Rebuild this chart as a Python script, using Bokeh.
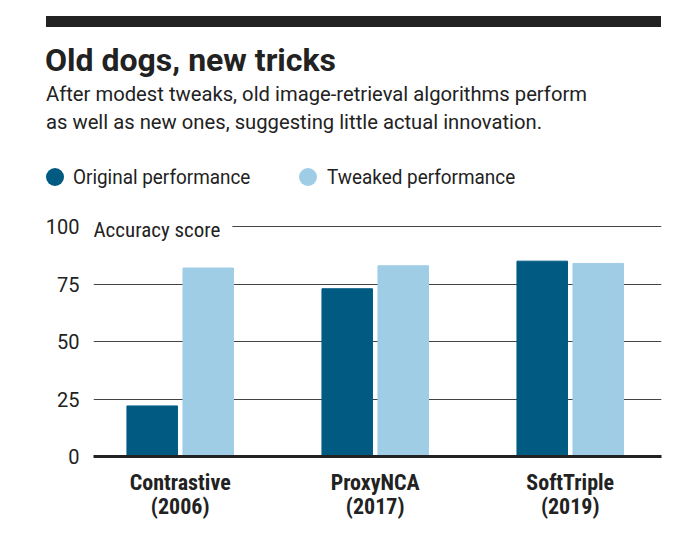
from bokeh.plotting import figure
from bokeh.layouts import column
from bokeh.models import Range1d, FixedTicker, Label, ColumnDataSource, Div
from bokeh.transform import dodge
from bokeh.embed import file_html
from bokeh.resources import INLINE

# ---- data ----
categories = ["Contrastive", "ProxyNCA", "SoftTriple"]
years = ["2006", "2017", "2019"]
original = [22, 73, 85]
tweaked = [82, 83, 84]
y_ticks = [0, 25, 50, 75, 100]
series_names = ["Original performance", "Tweaked performance"]
title_text = "Old dogs, new tricks"
subtitle_lines = ["After modest tweaks, old image-retrieval algorithms perform",
                  "as well as new ones, suggesting little actual innovation."]
y_title = "Accuracy score"

DARK = "#005a82"
LIGHT = "#9fcde5"
INK = "#222222"
REG = "Roboto"
COND = "'Roboto Condensed', 'DejaVu Sans Condensed', 'Liberation Sans Narrow', Lato"

# ---- header (html) ----
HEADER_H = 200
header_html = f"""
<div style="position:relative;width:699px;height:{HEADER_H}px;overflow:hidden;color:{INK};">
  <div style="position:absolute;left:46px;top:16px;width:615px;height:11px;background:{INK};"></div>
  <div style="position:absolute;left:45px;top:43.6px;font-family:Roboto;font-weight:700;
              font-size:32px;line-height:32px;white-space:nowrap;">{title_text}</div>
  <div style="position:absolute;left:46px;top:80.3px;font-family:Roboto;font-size:21px;
              line-height:28px;white-space:nowrap;transform:scaleX(0.963);
              transform-origin:0 0;">{subtitle_lines[0]}<br>{subtitle_lines[1]}</div>
  <div style="position:absolute;left:46px;top:167.7px;width:18px;height:18px;border-radius:50%;background:{DARK};"></div>
  <div style="position:absolute;left:73.3px;top:167.3px;font-family:Roboto;font-size:21px;
              line-height:21px;white-space:nowrap;transform:scaleX(0.9);
              transform-origin:0 0;">{series_names[0]}</div>
  <div style="position:absolute;left:299.3px;top:167.7px;width:18px;height:18px;border-radius:50%;background:{LIGHT};"></div>
  <div style="position:absolute;left:326.7px;top:167.3px;font-family:Roboto;font-size:21px;
              line-height:21px;white-space:nowrap;transform:scaleX(0.9);
              transform-origin:0 0;">{series_names[1]}</div>
</div>
"""
header = Div(text=header_html, width=699, height=HEADER_H, margin=0)

# ---- chart ----
x = list(range(len(categories)))
source = ColumnDataSource(dict(x=x, original=original, tweaked=tweaked))

p = figure(width=699, height=544 - HEADER_H, output_backend="svg", toolbar_location=None,
           x_range=Range1d(-0.4446, 2.468), y_range=Range1d(0, 104),
           min_border_left=93, min_border_right=38, min_border_top=17,
           min_border_bottom=88, margin=0)
p.outline_line_color = None

p.vbar(x=dodge("x", -0.1436, range=p.x_range), top="original", width=0.259,
       source=source, color=DARK)
p.vbar(x=dodge("x", 0.1436, range=p.x_range), top="tweaked", width=0.259,
       source=source, color=LIGHT)

p.yaxis.ticker = FixedTicker(ticks=y_ticks)
p.yaxis.axis_line_color = None
p.yaxis.major_tick_line_color = None
p.yaxis.minor_tick_line_color = None
p.yaxis.major_tick_out = 0
p.yaxis.major_label_text_font = REG
p.yaxis.major_label_text_font_size = "20px"
p.yaxis.major_label_text_color = INK
p.yaxis.major_label_standoff = 14

p.ygrid.ticker = FixedTicker(ticks=y_ticks)
p.ygrid.grid_line_color = "#444444"
p.ygrid.grid_line_width = 1
p.xgrid.grid_line_color = None

p.xaxis.ticker = FixedTicker(ticks=x)
p.xaxis.major_label_overrides = {i: f"{c}\n({yr})" for i, c, yr in zip(x, categories, years)}
p.xaxis.axis_line_color = INK
p.xaxis.axis_line_width = 3
p.xaxis.major_tick_line_color = None
p.xaxis.minor_tick_line_color = None
p.xaxis.major_tick_out = 0
p.xaxis.major_label_text_font = COND
p.xaxis.major_label_text_font_style = "bold"
p.xaxis.major_label_text_font_size = "22px"
p.xaxis.major_label_text_line_height = 0.98
p.xaxis.major_label_text_color = INK
p.xaxis.major_label_standoff = 13

p.add_layout(Label(x=0, y=100, x_units="screen", y_units="data", y_offset=-3,
                   text=y_title, text_font="'Roboto Condensed', Roboto",
                   text_font_size="21px",
                   text_color=INK, text_baseline="middle",
                   background_fill_color="white", background_fill_alpha=1,
                   padding=dict(left=0, right=12, top=3, bottom=3)))

layout = column(header, p, spacing=0)
open("out.html", "w").write(file_html(layout, INLINE))
